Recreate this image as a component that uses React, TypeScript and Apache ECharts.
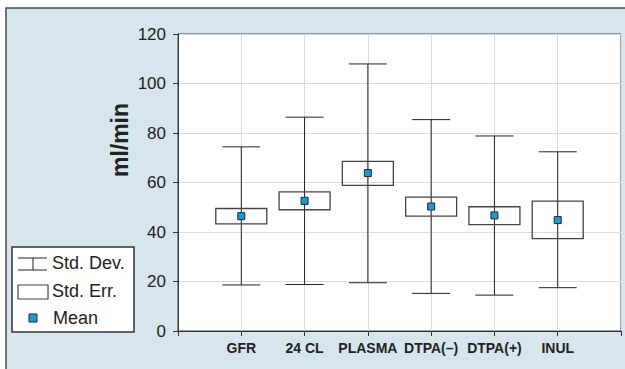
import React, { useEffect, useRef } from "react";
import * as echarts from "echarts";

const categories = ["GFR", "24 CL", "PLASMA", "DTPA(–)", "DTPA(+)", "INUL"];
const sdHigh = [74.4, 86.4, 107.9, 85.4, 78.8, 72.4];
const sdLow = [18.6, 18.8, 19.5, 15.2, 14.5, 17.5];
const seHigh = [49.5, 56.2, 68.5, 54.1, 50.2, 52.5];
const seLow = [43.3, 49.0, 58.8, 46.4, 43.0, 37.3];
const means = [46.4, 52.6, 63.8, 50.3, 46.7, 44.8];
const yTicks = [0, 20, 40, 60, 80, 100, 120];
const yName = "ml/min";

const FONT = "'Liberation Sans', Arial, Helvetica, sans-serif";

export default function App() {
  const ref = useRef<HTMLDivElement>(null);
  useEffect(() => {
    if (!ref.current) return;
    const chart = echarts.init(ref.current, undefined, { renderer: "svg" });
    const boxData = categories.map((_, i) => [i + 1, sdLow[i], sdHigh[i], seLow[i], seHigh[i]]);
    const meanData = categories.map((_, i) => [i + 1, means[i]]);
    chart.setOption({
      animation: false,
      textStyle: { fontFamily: FONT },
      graphic: [
        {
          type: "rect",
          z: -10,
          silent: true,
          shape: { x: 6, y: 8, width: 630, height: 370 },
          style: { fill: "#d7e5ec", stroke: "#4a4a4a", lineWidth: 1.5 },
        },
        {
          type: "text",
          x: 120,
          y: 140,
          rotation: Math.PI / 2,
          style: {
            text: yName,
            fontSize: 23,
            fontWeight: "bold",
            fontFamily: FONT,
            fill: "#222",
            align: "center",
            verticalAlign: "middle",
          },
        },
        {
          type: "group",
          z: 100,
          children: [
            {
              type: "rect",
              shape: { x: 12, y: 247, width: 122, height: 85 },
              style: { fill: "#fff", stroke: "#333", lineWidth: 1.5 },
            },
            { type: "line", shape: { x1: 18, y1: 258, x2: 47, y2: 258 }, style: { stroke: "#222", lineWidth: 1 } },
            { type: "line", shape: { x1: 18, y1: 270, x2: 47, y2: 270 }, style: { stroke: "#222", lineWidth: 1 } },
            { type: "line", shape: { x1: 33, y1: 258, x2: 33, y2: 270 }, style: { stroke: "#222", lineWidth: 1 } },
            {
              type: "rect",
              shape: { x: 18, y: 285, width: 30, height: 14 },
              style: { fill: "#fff", stroke: "#444", lineWidth: 1.2 },
            },
            {
              type: "rect",
              shape: { x: 29, y: 314, width: 8, height: 8 },
              style: { fill: "#1a9ad6", stroke: "#1a2a3a", lineWidth: 1 },
            },
            {
              type: "text",
              style: { x: 52, y: 263, text: "Std. Dev.", fontSize: 18, fontFamily: FONT, fill: "#222", verticalAlign: "middle" },
            },
            {
              type: "text",
              style: { x: 52, y: 291, text: "Std. Err.", fontSize: 18, fontFamily: FONT, fill: "#222", verticalAlign: "middle" },
            },
            {
              type: "text",
              style: { x: 53, y: 318, text: "Mean", fontSize: 18, fontFamily: FONT, fill: "#222", verticalAlign: "middle" },
            },
          ],
        },
      ],
      grid: {
        left: 178,
        top: 34,
        width: 443,
        height: 297,
        show: true,
        backgroundColor: "#fff",
        borderColor: "#444",
        borderWidth: 1,
      },
      xAxis: {
        type: "value",
        min: 0,
        max: 7,
        interval: 1,
        axisLine: { show: true, onZero: false, lineStyle: { color: "#333", width: 1 } },
        axisTick: { show: true, length: 5, lineStyle: { color: "#333" } },
        splitLine: { show: true, lineStyle: { color: "#dcdcdc", width: 1 } },
        axisLabel: {
          margin: 10,
          fontSize: 14,
          fontWeight: "bold",
          color: "#222",
          fontFamily: FONT,
          formatter: (v: number) => categories[v - 1] ?? "",
        },
      },
      yAxis: {
        type: "value",
        min: yTicks[0],
        max: yTicks[yTicks.length - 1],
        interval: 20,
        axisLine: { show: true, lineStyle: { color: "#333", width: 1 } },
        axisTick: { show: true, length: 5, lineStyle: { color: "#333" } },
        splitLine: { show: true, lineStyle: { color: "#dcdcdc", width: 1 } },
        axisLabel: { margin: 12, fontSize: 17, color: "#222", fontFamily: FONT },
      },
      series: [
        {
          type: "custom",
          data: boxData,
          encode: { x: 0, y: [1, 2, 3, 4] },
          z: 3,
          renderItem: (params: any, api: any) => {
            const x = api.value(0);
            const lo = api.coord([x, api.value(1)]);
            const hi = api.coord([x, api.value(2)]);
            const bl = api.coord([x, api.value(3)]);
            const bh = api.coord([x, api.value(4)]);
            const cx = lo[0];
            const cap = 19;
            const bw = 25.5;
            const lineStyle = { stroke: "#222", lineWidth: 1 };
            return {
              type: "group",
              children: [
                { type: "line", shape: { x1: cx, y1: lo[1], x2: cx, y2: hi[1] }, style: lineStyle },
                { type: "line", shape: { x1: cx - cap, y1: lo[1], x2: cx + cap, y2: lo[1] }, style: lineStyle },
                { type: "line", shape: { x1: cx - cap, y1: hi[1], x2: cx + cap, y2: hi[1] }, style: lineStyle },
                {
                  type: "rect",
                  shape: { x: cx - bw, y: bh[1], width: bw * 2, height: bl[1] - bh[1] },
                  style: { fill: "none", stroke: "#444", lineWidth: 1.3 },
                },
              ],
            };
          },
        },
        {
          type: "scatter",
          data: meanData,
          symbol: "rect",
          symbolSize: 7,
          z: 5,
          itemStyle: { color: "#1a9ad6", borderColor: "#1a2a3a", borderWidth: 1, opacity: 1 },
        },
      ],
    });
    return () => chart.dispose();
  }, []);
  return (
    <div
      ref={ref}
      style={{ position: "absolute", left: 0, top: 0, width: 625, height: 369 }}
    />
  );
}
